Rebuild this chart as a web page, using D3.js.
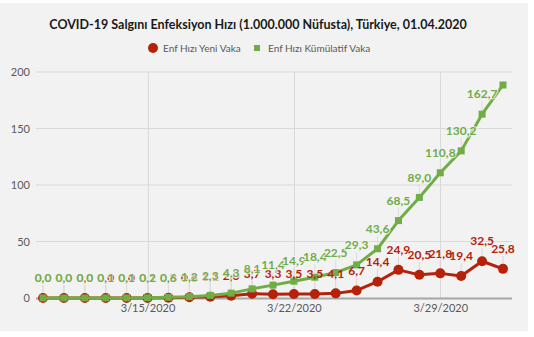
<!DOCTYPE html>
<html><head><meta charset="utf-8">
<script src="https://cdn.jsdelivr.net/npm/d3@7"></script>
<style>body{margin:0;background:#fff}svg{display:block}text{font-family:Lato,"Open Sans",sans-serif}</style>
</head><body><svg id="c" width="534" height="337"></svg>
<script>
const dates = ["2020-03-10","2020-03-11","2020-03-12","2020-03-13","2020-03-14","2020-03-15","2020-03-16","2020-03-17","2020-03-18","2020-03-19","2020-03-20","2020-03-21","2020-03-22","2020-03-23","2020-03-24","2020-03-25","2020-03-26","2020-03-27","2020-03-28","2020-03-29","2020-03-30","2020-03-31","2020-04-01"];
const yeniVaka = [0.0,0.0,0.0,0.0,0.0,0.1,0.3,0.6,1.1,2.0,3.7,3.3,3.5,3.5,4.1,6.7,14.4,24.9,20.5,21.8,19.4,32.5,25.8];
const kumulatif = [0.0,0.0,0.0,0.1,0.1,0.2,0.6,1.2,2.3,4.3,8.1,11.4,14.9,18.4,22.5,29.3,43.6,68.5,89.0,110.8,130.2,162.7,188.5];
const showKumLabel = dates.map((d,i)=> i < dates.length-1);
const yTicks = [0,50,100,150,200];
const xTicks = ["2020-03-15","2020-03-22","2020-03-29"];
const title = "COVID-19 Salgını Enfeksiyon Hızı (1.000.000 Nüfusta), Türkiye, 01.04.2020";
const seriesNames = ["Enf Hızı Yeni Vaka","Enf Hızı Kümülatif Vaka"];

const parse = d3.timeParse("%Y-%m-%d");
const svg = d3.select("#c");
const red = "#b52109", green = "#70ad47";

svg.append("rect").attr("x",0).attr("y",3).attr("width",528).attr("height",328).attr("fill","#f2f2f2");

const x = d3.scaleTime().domain([parse(dates[0]), parse(dates[dates.length-1])]).range([43,503]);
const y = d3.scaleLinear().domain([0,200]).range([298,72]);
const axL = 36, axR = 512;

// horizontal grid
svg.append("g").selectAll("line").data(yTicks.filter(t=>t>0)).join("line")
  .attr("x1",axL).attr("x2",axR).attr("y1",d=>y(d)).attr("y2",d=>y(d))
  .attr("stroke","#d9d9d9").attr("stroke-width",1);
// vertical grid
svg.append("g").selectAll("line").data(xTicks).join("line")
  .attr("x1",d=>Math.round(x(parse(d)))+0.5).attr("x2",d=>Math.round(x(parse(d)))+0.5)
  .attr("y1",y(200)).attr("y2",y(0)).attr("stroke","#d9d9d9").attr("stroke-width",1);

// y axis labels
const yAxis = d3.axisLeft(y).tickValues(yTicks).tickSize(0).tickPadding(0);
const gy = svg.append("g").attr("transform","translate(30,0)").call(yAxis);
gy.select(".domain").remove();
gy.selectAll("text").attr("fill","#595959").style("font-size","11px").style("font-family","Lato,sans-serif");

// x axis
const xAxis = d3.axisBottom(x).tickValues(xTicks.map(parse)).tickFormat(d3.timeFormat("%-m/%-d/%Y")).tickSize(0).tickPadding(6);
const gx = svg.append("g").attr("transform",`translate(0,${y(0)})`).call(xAxis);
gx.select(".domain").remove();
gx.selectAll("text").attr("fill","#595959").style("font-size","11px").style("font-family","Lato,sans-serif");
svg.append("line").attr("x1",axL).attr("x2",axR).attr("y1",y(0)+0.5).attr("y2",y(0)+0.5).attr("stroke","#a6a6a6").attr("stroke-width",2);

const redData = dates.map((d,i)=>({d:parse(d),v:yeniVaka[i]}));
const greenData = dates.map((d,i)=>({d:parse(d),v:kumulatif[i],show:showKumLabel[i]}));
const line = d3.line().x(p=>x(p.d)).y(p=>y(p.v));
const fmt = v => v.toFixed(1).replace(".",",");

// leader lines
const leaders = svg.append("g");
function addLeaders(data, col){
  leaders.selectAll(null).data(data.filter(p=>p.show!==false)).join("line")
    .attr("x1",p=>x(p.d)).attr("x2",p=>x(p.d)).attr("y1",p=>y(p.v)-13).attr("y2",p=>y(p.v)-4)
    .attr("stroke",col).attr("stroke-width",1);
}
addLeaders(redData,"#e6cfcf");
addLeaders(greenData,"#dcdcdc");

// red series
svg.append("path").datum(redData).attr("d",line).attr("fill","none").attr("stroke",red).attr("stroke-width",3).attr("stroke-linejoin","round");
svg.append("g").selectAll("circle").data(redData).join("circle")
  .attr("cx",p=>x(p.d)).attr("cy",p=>y(p.v)).attr("r",5).attr("fill",red);

// green series
svg.append("path").datum(greenData).attr("d",line).attr("fill","none").attr("stroke",green).attr("stroke-width",3).attr("stroke-linejoin","round");
svg.append("g").selectAll("rect").data(greenData).join("rect")
  .attr("x",p=>x(p.d)-3.5).attr("y",p=>y(p.v)-3.5).attr("width",7).attr("height",7).attr("fill",green);

// labels
function addLabels(data,col,halo){
  const t = svg.append("g").selectAll("text").data(data.filter(p=>p.show!==false)).join("text")
    .attr("x",p=>x(p.d)).attr("y",p=>y(p.v)-20).attr("dy","0.35em")
    .attr("text-anchor","middle").attr("fill",col)
    .style("font-size","12px").style("font-weight","bold")
    .text(p=>fmt(p.v));
  if (halo) t.attr("stroke","#f2f2f2").attr("stroke-width",2.5).attr("stroke-opacity",0.75)
    .attr("stroke-linejoin","round").style("paint-order","stroke");
}
addLabels(redData,red,false);
addLabels(greenData,green,true);

// title
svg.append("text").attr("x",258).attr("y",25).attr("dy","0.35em").attr("text-anchor","middle")
  .attr("fill","#1a1a1a").style("font-size","12.5px").style("font-weight","bold").text(title);

// legend
const lg = svg.append("g");
lg.append("circle").attr("cx",153).attr("cy",48).attr("r",5).attr("fill",red);
lg.append("text").attr("x",163).attr("y",48).attr("dy","0.35em").attr("fill","#595959").style("font-size","10px").text(seriesNames[0]);
lg.append("rect").attr("x",254).attr("y",45).attr("width",6).attr("height",6).attr("fill",green);
lg.append("text").attr("x",268).attr("y",48).attr("dy","0.35em").attr("fill","#595959").style("font-size","10px").text(seriesNames[1]);
</script></body></html>
